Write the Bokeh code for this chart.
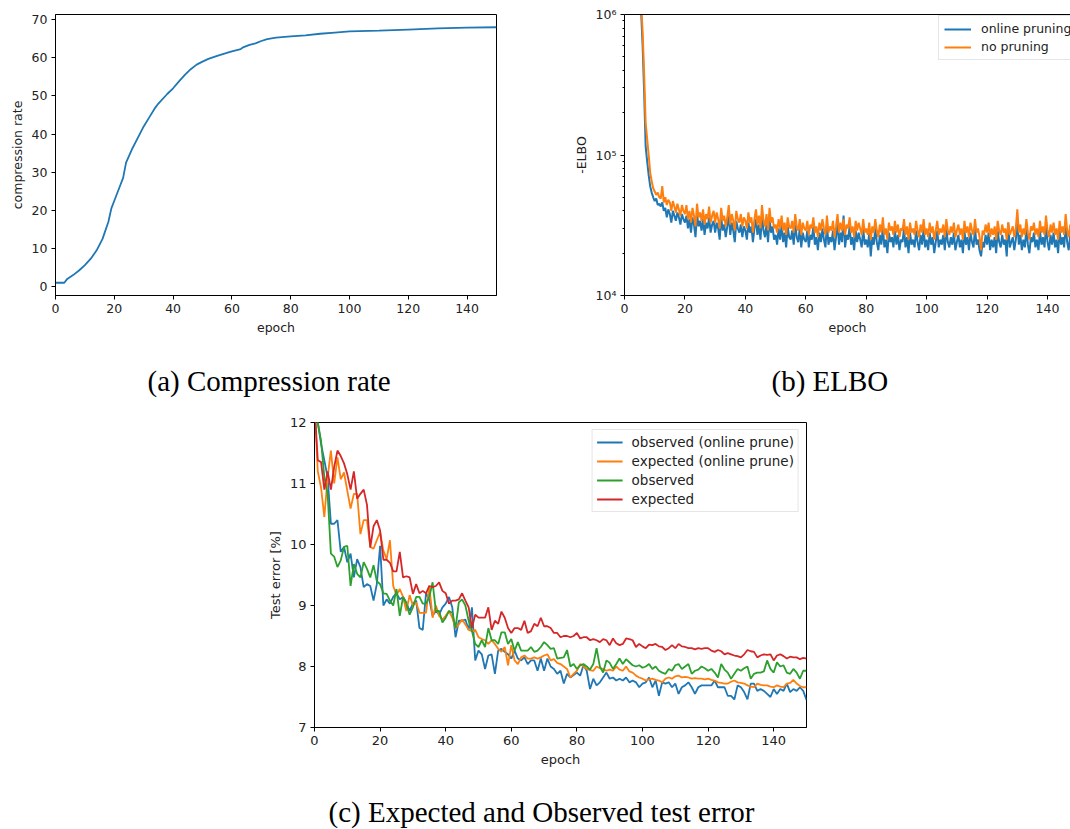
from bokeh.plotting import figure
from bokeh.layouts import column, row
from bokeh.models import (FixedTicker, Legend, LegendItem, LinearAxis, Range1d)
from bokeh.core.properties import value
from bokeh.embed import file_html
from bokeh.resources import INLINE

BLUE, ORANGE, GREEN, RED = "#1f77b4", "#ff7f0e", "#2ca02c", "#d62728"

captions = ["(a) Compression rate", "(b) ELBO", "(c) Expected and Observed test error"]

# ---------------- (a) compression rate ----------------
comp_epoch = [0, 3, 4, 6, 8, 10, 12, 14, 16, 18, 19, 20, 22, 23, 24, 26, 28, 30, 32, 34, 35, 38, 40, 42,
              44, 46, 48, 50, 52, 55, 58, 60, 63, 64, 66, 68, 70, 72, 75, 80, 85, 90, 95, 100, 110, 120,
              130, 140, 150]
comp_rate = [1, 1, 2, 3, 4.2, 5.6, 7.3, 9.5, 12.5, 17, 20.5, 22.5, 26.5, 28.5, 32.5, 36, 39, 42, 44.5, 47,
             48, 50.5, 52, 53.8, 55.5, 57, 58.2, 59, 59.7, 60.5, 61.2, 61.7, 62.3, 62.8, 63.4, 63.8, 64.4,
             64.9, 65.3, 65.6, 65.9, 66.3, 66.6, 66.9, 67.1, 67.4, 67.7, 67.9, 68.0]

# ---------------- (b) -ELBO (thousands), every half epoch from epoch 5 ----------------
elbo_start = 5.0
elbo_step = 0.5
elbo_online_k = [
    1500, 1050, 600, 280, 115, 90, 72, 60, 54, 50, 47, 49, 44, 45, 43, 46, 40, 42, 36, 41, 38, 33, 40, 37, 34, 39, 36, 32, 38, 35,
    33, 37, 30, 35, 28, 36, 32, 26, 38, 31, 34, 29, 35, 27, 33, 30, 36, 28, 32, 34,
    28, 33, 30, 25, 36, 29, 32, 26, 31, 37, 27, 33, 29, 24, 34, 30, 28, 32, 26, 31,
    29, 25, 33, 28, 31, 24, 30, 35, 27, 32, 25, 37, 29, 26, 32, 24, 35, 28, 31, 25,
    27, 23, 30, 25, 32, 24, 28, 22, 31, 26, 25, 29, 23, 32, 26, 24, 30, 22, 28, 25,
    24, 29, 22, 27, 25, 31, 23, 26, 21, 28, 24, 30, 25, 22, 32, 23, 26, 24, 29, 21,
    26, 33, 23, 28, 24, 37, 22, 27, 25, 31, 23, 26, 21, 29, 24, 28, 25, 22, 30, 23,
    25, 22, 28, 19, 26, 23, 30, 24, 21, 27, 23, 31, 22, 25, 20, 28, 24, 26, 22, 29,
    23, 27, 21, 25, 24, 30, 22, 26, 20, 28, 23, 25, 22, 29, 24, 21, 27, 23, 30, 22,
    25, 21, 28, 23, 26, 20, 24, 29, 22, 25, 23, 27, 21, 30, 24, 22, 26, 23, 28, 21,
    24, 27, 22, 25, 20, 29, 23, 26, 21, 28, 24, 22, 30, 23, 25, 21, 19, 24, 22, 27,
    23, 28, 21, 25, 22, 26, 20, 29, 24, 22, 27, 23, 25, 19, 33, 22, 24, 26, 21, 25,
    34, 23, 27, 21, 25, 22, 30, 23, 20, 26, 24, 28, 22, 25, 21, 29, 23, 26, 22, 31,
    24, 21, 27, 23, 28, 22, 25, 20, 29, 23, 26, 22, 32, 24, 21, 27, 25, 23, 28, 22, 26,
]
elbo_none_k = [
    1600, 1200, 750, 380, 170, 130, 100, 75, 65, 58, 55, 52, 54, 50, 49, 60, 46, 50, 44, 48, 46, 40, 47, 43, 39, 45, 41, 37, 44, 40,
    38, 44, 35, 40, 33, 42, 37, 31, 45, 36, 39, 34, 41, 32, 38, 35, 43, 33, 37, 40,
    33, 39, 35, 30, 42, 34, 37, 31, 36, 44, 32, 38, 34, 29, 40, 35, 33, 38, 31, 36,
    34, 30, 39, 33, 36, 28, 35, 41, 32, 37, 30, 44, 34, 31, 38, 29, 42, 33, 36, 30,
    32, 28, 35, 30, 37, 29, 33, 27, 36, 31, 30, 34, 28, 38, 31, 29, 35, 27, 33, 30,
    29, 34, 27, 32, 30, 36, 28, 31, 26, 33, 29, 35, 30, 27, 37, 28, 31, 29, 34, 26,
    31, 38, 28, 33, 29, 35, 27, 32, 30, 36, 28, 31, 26, 34, 29, 33, 30, 27, 35, 28,
    30, 27, 33, 25, 31, 28, 35, 29, 26, 32, 28, 36, 27, 30, 25, 33, 29, 31, 27, 34,
    28, 32, 26, 30, 29, 35, 27, 31, 25, 33, 28, 30, 27, 34, 29, 26, 32, 28, 35, 27,
    30, 26, 33, 28, 31, 25, 29, 34, 27, 30, 28, 32, 26, 35, 29, 27, 31, 28, 33, 26,
    29, 32, 27, 30, 25, 34, 28, 31, 26, 33, 29, 27, 35, 28, 30, 26, 21, 29, 27, 32,
    28, 33, 26, 30, 27, 31, 25, 34, 29, 27, 32, 28, 30, 25, 33, 27, 29, 31, 26, 30,
    41, 28, 32, 26, 30, 27, 35, 28, 25, 31, 29, 33, 27, 30, 26, 34, 28, 31, 27, 37,
    29, 26, 32, 28, 33, 27, 30, 25, 34, 28, 31, 27, 38, 29, 26, 32, 28, 30, 27, 33, 29,
]

# ---------------- (c) test error, one value per epoch 0..150 ----------------
obs_online = [12.3, 12.0, 11.65, 11.38, 11.1, 10.34, 10.34, 10.4, 9.88, 9.96, 9.71, 9.85, 9.46, 9.76, 9.63,
              9.3, 9.35, 9.32, 9.08, 9.35, 9.98, 9.0, 9.1, 9.03, 9.14, 9.2, 9.1, 9.14, 9.05, 8.91, 9.03, 9.08,
              8.63, 8.6, 9.2, 9.1, 8.83, 8.91, 8.85, 8.97, 9.03, 9.14, 8.97, 8.48, 8.75, 8.75, 8.77, 8.6, 8.97,
              8.1, 8.26, 8.2, 7.96, 8.18, 8.2, 7.88, 8.26, 8.29, 8.24, 8.2, 8.13, 8.26, 8.13, 8.1, 8.15, 8.04,
              8.1, 8.1, 7.93, 8.13, 7.93, 8.13, 8.0, 7.96, 7.88, 7.93, 7.72, 7.88, 7.82, 7.86, 7.9, 7.85, 8.02,
              7.93, 7.63, 7.8, 7.69, 7.74, 7.82, 7.9, 7.8, 7.82, 7.77, 7.8, 7.77, 7.82, 7.74, 7.77, 7.74, 7.66,
              7.72, 7.74, 7.82, 7.66, 7.77, 7.52, 7.74, 7.72, 7.74, 7.66, 7.72, 7.55, 7.66, 7.69, 7.74, 7.66,
              7.55, 7.66, 7.69, 7.69, 7.69, 7.69, 7.77, 7.66, 7.66, 7.66, 7.52, 7.52, 7.46, 7.69, 7.66, 7.58,
              7.46, 7.72, 7.72, 7.6, 7.63, 7.6, 7.55, 7.5, 7.63, 7.55, 7.63, 7.6, 7.72, 7.58, 7.63, 7.6, 7.66,
              7.6, 7.45]
exp_online = [12.3, 11.2, 10.93, 10.45, 11.1, 11.54, 11.0, 11.43, 11.07, 11.18, 10.88, 10.59, 10.83, 10.83,
              10.17, 10.4, 10.4, 9.96, 9.93, 10.07, 10.2, 9.9, 9.76, 10.07, 9.32, 9.17, 9.27, 9.14, 8.91, 9.17,
              9.0, 9.05, 8.88, 8.88, 8.88, 9.32, 8.8, 9.0, 8.83, 8.77, 8.83, 8.91, 8.8, 8.63, 8.69, 8.77, 8.69,
              8.6, 8.58, 8.6, 8.48, 8.45, 8.43, 8.37, 8.43, 8.37, 8.29, 8.24, 8.32, 8.02, 8.35, 8.1, 8.04, 8.15,
              8.18, 8.13, 8.13, 8.15, 8.13, 8.15, 8.18, 8.2, 8.1, 8.12, 8.06, 8.04, 8.0, 7.96, 7.82, 7.88, 7.93,
              8.04, 8.0, 7.96, 7.94, 7.93, 8.0, 7.97, 7.96, 7.93, 7.95, 7.93, 8.0, 7.95, 7.93, 8.0, 7.92, 7.9,
              7.85, 7.82, 7.8, 7.77, 7.79, 7.8, 7.78, 7.77, 7.74, 7.8, 7.82, 7.8, 7.84, 7.85, 7.82, 7.83, 7.82,
              7.8, 7.81, 7.8, 7.8, 7.79, 7.8, 7.78, 7.77, 7.74, 7.73, 7.72, 7.72, 7.75, 7.77, 7.74, 7.73, 7.72,
              7.69, 7.67, 7.66, 7.72, 7.7, 7.69, 7.69, 7.67, 7.66, 7.69, 7.67, 7.66, 7.72, 7.73, 7.78, 7.72,
              7.68, 7.66, 7.66]
obs_full = [12.3, 12.0, 11.7, 11.1, 10.83, 9.85, 9.8, 9.63, 9.74, 9.96, 9.98, 9.32, 9.68, 9.52, 9.46, 9.71,
            9.6, 9.46, 9.66, 9.4, 9.35, 9.2, 9.19, 9.08, 9.0, 9.27, 8.83, 9.14, 9.03, 8.85, 8.97, 9.14, 9.14,
            9.03, 9.03, 9.14, 9.38, 8.91, 8.91, 8.72, 8.8, 8.91, 8.88, 8.63, 9.05, 9.1, 9.0, 8.75, 8.58, 8.37,
            8.32, 8.43, 8.32, 8.63, 8.43, 8.43, 8.37, 8.56, 8.56, 8.37, 8.45, 8.26, 8.4, 8.26, 8.26, 8.26, 8.32,
            8.24, 8.26, 8.32, 8.4, 8.35, 8.29, 8.3, 8.13, 8.14, 8.15, 8.27, 8.0, 8.04, 7.96, 8.02, 8.04, 8.0,
            7.95, 8.04, 8.3, 8.0, 7.9, 8.1, 8.06, 7.96, 8.04, 8.13, 8.04, 8.12, 8.07, 8.02, 8.0, 8.02, 7.98,
            8.0, 8.04, 7.96, 8.0, 7.93, 7.9, 7.88, 7.96, 7.93, 8.02, 8.04, 7.96, 8.0, 8.04, 7.88, 7.93, 7.95,
            8.0, 7.97, 7.93, 7.96, 7.9, 7.82, 8.04, 7.95, 7.9, 7.8, 7.88, 7.96, 7.93, 7.97, 8.0, 7.8, 7.88, 7.9,
            7.9, 7.92, 8.1, 7.96, 7.9, 8.07, 8.0, 8.02, 7.9, 7.88, 7.96, 7.9, 7.8, 7.93, 7.93]
exp_full = [12.3, 11.38, 11.35, 10.9, 11.2, 10.9, 11.27, 11.54, 11.45, 11.33, 11.15, 10.9, 11.2, 10.75, 10.83,
            10.9, 10.65, 9.95, 10.3, 10.4, 10.23, 9.75, 9.75, 9.7, 9.56, 9.56, 9.88, 9.46, 9.48, 9.46, 9.19,
            9.35, 9.2, 9.24, 9.2, 9.32, 9.3, 9.32, 9.38, 9.24, 9.2, 9.03, 9.08, 9.08, 9.1, 9.2, 9.08, 8.97,
            8.63, 8.85, 8.8, 8.8, 8.8, 8.97, 8.6, 8.75, 8.7, 8.9, 8.8, 8.63, 8.55, 8.63, 8.63, 8.6, 8.75, 8.55,
            8.58, 8.7, 8.66, 8.8, 8.66, 8.66, 8.63, 8.55, 8.55, 8.48, 8.5, 8.5, 8.48, 8.5, 8.55, 8.46, 8.48,
            8.48, 8.43, 8.45, 8.43, 8.4, 8.45, 8.43, 8.35, 8.46, 8.38, 8.35, 8.37, 8.46, 8.45, 8.43, 8.32,
            8.37, 8.33, 8.3, 8.36, 8.35, 8.37, 8.33, 8.32, 8.27, 8.3, 8.35, 8.3, 8.37, 8.33, 8.32, 8.3, 8.3,
            8.28, 8.3, 8.29, 8.3, 8.3, 8.26, 8.24, 8.27, 8.25, 8.2, 8.22, 8.2, 8.18, 8.17, 8.15, 8.2, 8.27,
            8.25, 8.24, 8.15, 8.18, 8.2, 8.19, 8.2, 8.1, 8.18, 8.2, 8.17, 8.13, 8.16, 8.15, 8.15, 8.12, 8.14,
            8.13]

epoch_ticks = [0, 20, 40, 60, 80, 100, 120, 140]

TICK_FONT = "DejaVu Sans"
CAP_FONT = "Liberation Serif"
CAP_SIZE = "29px"


def style_axis(ax, size="12.5px", minor=False):
    ax.axis_line_color = "black"
    ax.axis_line_width = 1
    ax.major_tick_line_color = "black"
    ax.major_tick_out = 4
    ax.major_tick_in = 0
    if minor:
        ax.minor_tick_out = 2
        ax.minor_tick_in = 0
        ax.minor_tick_line_color = "black"
    else:
        ax.minor_tick_line_color = None
    ax.major_label_text_font = TICK_FONT
    ax.major_label_text_font_size = size
    ax.major_label_text_color = "#222222"
    ax.major_label_standoff = 4
    ax.axis_label_text_font = TICK_FONT
    ax.axis_label_text_font_size = size
    ax.axis_label_text_font_style = "normal"
    ax.axis_label_text_color = "#222222"
    ax.axis_label_standoff = 4


def base(p):
    p.xgrid.visible = False
    p.ygrid.visible = False
    p.background_fill_color = "white"
    p.border_fill_color = "white"


def caption_fig(width, height, text, x_left, y_mid, left=0, right=0):
    fw = width - left - right
    c = figure(width=width, height=height, output_backend="svg", toolbar_location=None,
               x_range=Range1d(0, fw), y_range=Range1d(0, height),
               x_axis_location=None, y_axis_location=None,
               min_border_left=left, min_border_right=right, min_border_top=0, min_border_bottom=0)
    base(c)
    c.outline_line_color = None
    c.text(x=[x_left], y=[y_mid], text=[text], text_font=value(CAP_FONT),
           text_font_size=CAP_SIZE, text_color="black", text_align="left",
           text_baseline="middle")
    return c


# (a)
pa = figure(width=535, height=350, output_backend="svg", toolbar_location=None,
            x_range=Range1d(0, 150), y_range=Range1d(-2.35, 71.35),
            min_border_left=55, min_border_right=39, min_border_top=14, min_border_bottom=50)
base(pa)
pa.outline_line_color = "black"
pa.line(comp_epoch, comp_rate, line_color=BLUE, line_width=1.8)
pa.xaxis.ticker = FixedTicker(ticks=epoch_ticks)
pa.yaxis.ticker = FixedTicker(ticks=[0, 10, 20, 30, 40, 50, 60, 70])
pa.xaxis.axis_label = "epoch"
pa.yaxis.axis_label = "compression rate"
style_axis(pa.xaxis[0]); style_axis(pa.yaxis[0])

# (b)
pb = figure(width=535, height=350, output_backend="svg", toolbar_location=None,
            x_range=Range1d(0, 147.6), y_range=Range1d(1e4, 1e6), y_axis_type="log",
            min_border_left=89, min_border_right=0, min_border_top=12, min_border_bottom=55)
base(pb)
pb.outline_line_color = None
elbo_x = [elbo_start + elbo_step * i for i in range(len(elbo_online_k))]
elbo_online = [v * 1000 for v in elbo_online_k]
elbo_none = [v * 1000 for v in elbo_none_k]
lb1 = pb.line(elbo_x, elbo_online, line_color=BLUE, line_width=2)
lb2 = pb.line(elbo_x, elbo_none, line_color=ORANGE, line_width=2)
pb.xaxis.ticker = FixedTicker(ticks=epoch_ticks)
minor = [m * 10 ** k for k in (4, 5) for m in range(2, 10)]
pb.yaxis.ticker = FixedTicker(ticks=[1e4, 1e5, 1e6], minor_ticks=minor)
pb.yaxis.major_label_overrides = {10000: "10⁴", 100000: "10⁵", 1000000: "10⁶"}
pb.xaxis.axis_label = "epoch"
pb.yaxis.axis_label = "-ELBO"
style_axis(pb.xaxis[0]); style_axis(pb.yaxis[0], minor=True)
top_ax = LinearAxis(major_tick_line_color=None, minor_tick_line_color=None,
                    major_label_text_font_size="0px", axis_line_color="black")
top_ax.ticker = FixedTicker(ticks=[])
pb.add_layout(top_ax, "above")
leg_b = Legend(items=[LegendItem(label="online pruning", renderers=[lb1]),
                      LegendItem(label="no pruning", renderers=[lb2])],
               location=(314, 235))
pb.add_layout(leg_b)

# captions of the top row (height 50, from y=350 to 400)
cap_a = caption_fig(535, 50, captions[0], 147, 20)
cap_b = caption_fig(535, 50, captions[1], 771 - 535, 20)

# (c)
pc = figure(width=1070, height=380, output_backend="svg", toolbar_location=None,
            x_range=Range1d(0, 150), y_range=Range1d(7, 12),
            min_border_left=314, min_border_right=264, min_border_top=22, min_border_bottom=53)
base(pc)
pc.outline_line_color = "black"
ep = list(range(len(obs_online)))
c1 = pc.line(ep, obs_online, line_color=BLUE, line_width=1.8)
c2 = pc.line(ep, exp_online, line_color=ORANGE, line_width=1.8)
c3 = pc.line(ep, obs_full, line_color=GREEN, line_width=1.8)
c4 = pc.line(ep, exp_full, line_color=RED, line_width=1.8)
pc.xaxis.ticker = FixedTicker(ticks=epoch_ticks)
pc.yaxis.ticker = FixedTicker(ticks=[7, 8, 9, 10, 11, 12])
pc.xaxis.axis_label = "epoch"
pc.yaxis.axis_label = "Test error [%]"
style_axis(pc.xaxis[0], size="13px"); style_axis(pc.yaxis[0], size="13px")
leg_c = Legend(items=[LegendItem(label="observed (online prune)", renderers=[c1]),
                      LegendItem(label="expected (online prune)", renderers=[c2]),
                      LegendItem(label="observed", renderers=[c3]),
                      LegendItem(label="expected", renderers=[c4])],
               location="top_right")
pc.add_layout(leg_c)

# caption of (c): same horizontal borders as (c), text starts 14 px right of the frame's left edge
cap_c = caption_fig(1070, 49, captions[2], 328 - 314, 18, left=314, right=264)

for lg, fs in ((leg_b, "12.5px"), (leg_c, "13.5px")):
    lg.label_text_font = TICK_FONT
    lg.label_text_font_size = fs
    lg.label_text_color = "#222222"
    lg.glyph_height = 14
    lg.label_height = 14
    lg.spacing = 3
    lg.margin = 7
    lg.border_line_color = "#cccccc"
    lg.border_line_width = 1
    lg.background_fill_alpha = 0.8
leg_b.glyph_width = 27
leg_b.label_standoff = 10
leg_b.padding = 5
leg_c.glyph_width = 26
leg_c.label_standoff = 9
leg_c.padding = 4

layout = column(row(pa, pb), row(cap_a, cap_b), pc, cap_c)
open("out.html", "w").write(file_html(layout, INLINE))
